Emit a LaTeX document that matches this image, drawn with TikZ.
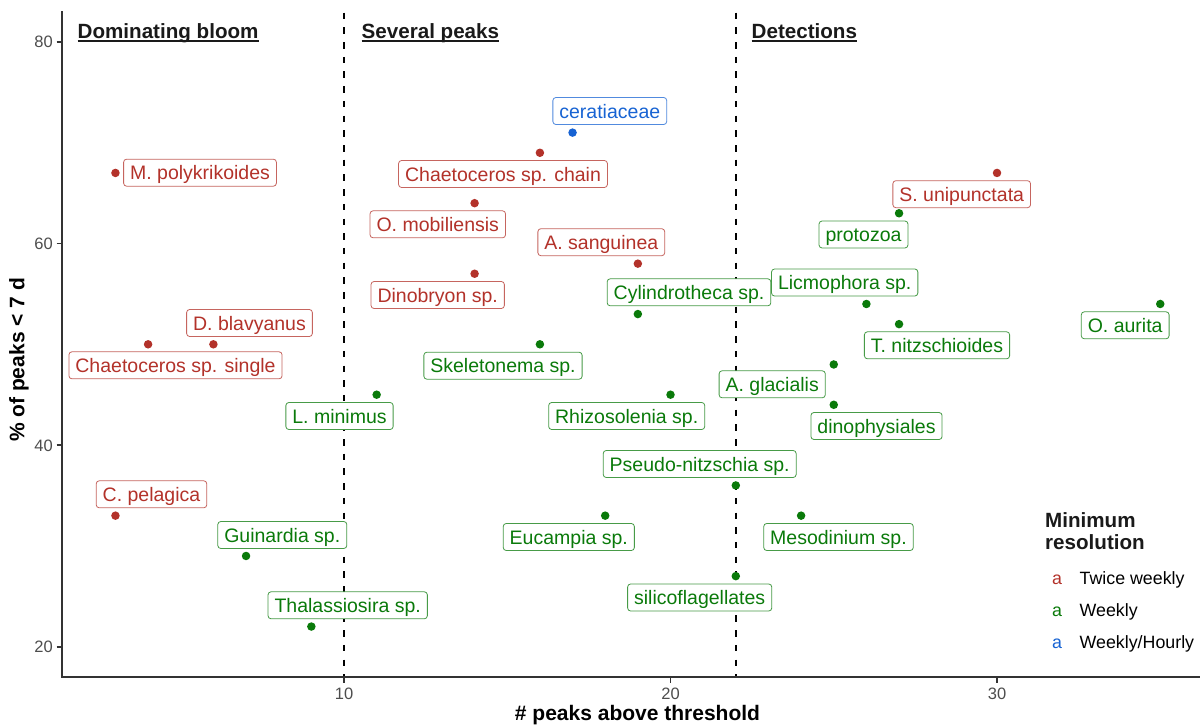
\documentclass[tikz,border=0pt]{standalone}
\usepackage{fontspec}
\setmainfont{Liberation Sans}
\definecolor{cR}{HTML}{B3322A}
\definecolor{cG}{HTML}{0A7A0A}
\definecolor{cB}{HTML}{1763D3}
\definecolor{axisgray}{HTML}{333333}
\definecolor{tickgray}{HTML}{4D4D4D}
\definecolor{titleblack}{HTML}{1A1A1A}
\newcommand\labfont{\fontsize{19.5}{20}\selectfont}
\newcommand\specpt[7]{%
  \node[dot=#2] (p#1) at ({xv(#3)},{yv(#4)}) {};
  \node[lab=#2] (l#1) at (#5,#6) {#7};}
\tikzset{
  lab/.style={draw=#1!75!white, text=#1, fill=white, rounded corners=3pt,
    line width=0.8pt, font=\labfont, inner xsep=6.5pt, inner ysep=4pt,
    text height=16.5pt, text depth=2.5pt},
  dot/.style={circle, fill=#1, inner sep=0pt, minimum size=8.5pt},
  ticklab/.style={text=tickgray, font=\fontsize{16.5}{17}\selectfont, inner sep=0pt},
  paneltitle/.style={text=titleblack, font=\fontsize{20.6}{22}\selectfont\bfseries, inner sep=0pt, anchor=base west},
  axtitle/.style={text=black, font=\fontsize{21}{23}\selectfont\bfseries, inner sep=0pt},
  legtext/.style={text=black, font=\fontsize{17.8}{19}\selectfont, inner sep=0pt, anchor=base west},
  legkey/.style={font=\fontsize{17.8}{19}\selectfont, inner sep=0pt, anchor=base},
  vline/.style={line width=2pt, black, dash pattern=on 6.5pt off 8.2pt},
  axline/.style={line width=2pt, axisgray},
}
\begin{document}
\begin{tikzpicture}[x=1pt,y=-1pt,
  declare function={xv(\v)=344+(\v-10)*32.65; yv(\v)=646.7-(\v-20)*10.08;}]
\useasboundingbox (0,0) rectangle (1200,725);
\fill[white] (0,0) rectangle (1200,725);

% dashed separators
\coordinate (d1top) at ({xv(10)},12.7);
\coordinate (d1bot) at ({xv(10)},677);
\coordinate (d2top) at ({xv(22)},12.7);
\coordinate (d2bot) at ({xv(22)},677);
\draw[vline] (d1top) -- (d1bot);
\draw[vline] (d2top) -- (d2bot);

% axes
\coordinate (origin) at (62,677);
\coordinate (ytop) at (62,12);
\coordinate (xend) at (1200,677);
\draw[axline, line cap=rect] (ytop) -- (origin) -- (xend);

% y ticks
\foreach \v in {20,40,60,80}{
  \coordinate (yt\v a) at (56.5,{yv(\v)});
  \coordinate (yt\v b) at (62,{yv(\v)});
  \draw[axline, line width=1.6pt] (yt\v a) -- (yt\v b);
  \node[ticklab, anchor=base east] (ytl\v) at (53,{yv(\v)+5.9}) {\v};
}
% x ticks
\foreach \v in {10,20,30}{
  \coordinate (xt\v a) at ({xv(\v)},677);
  \coordinate (xt\v b) at ({xv(\v)},682.5);
  \draw[axline, line width=1.6pt] (xt\v a) -- (xt\v b);
  \node[ticklab, anchor=base] (xtl\v) at ({xv(\v)},699) {\v};
}

% axis titles
\node[axtitle, anchor=base] (xtitle) at (637.5,720) {\# peaks above threshold};
\node[axtitle, rotate=90] (ytitle) at (19,360) {\% of peaks < 7 d};

% panel titles
\foreach \nm/\xx/\tx in {tA/77.5/Dominating bloom, tB/361.5/Several peaks, tC/751.5/Detections}{
  \node[paneltitle] (\nm) at (\xx,39) {\tx};
  \draw[titleblack, line width=1.8pt] ([yshift=-2.4pt]\nm.base west) -- ([yshift=-2.4pt]\nm.base east);
}

% points and labels
\specpt{1}{cR}{3}{67}{200}{172.7}{M. polykrikoides}
\specpt{2}{cR}{6}{50}{249.5}{323}{D. blavyanus}
\specpt{3}{cR}{4}{50}{175.5}{365.3}{Chaetoceros sp. single}
\specpt{4}{cR}{3}{33}{151.5}{494.3}{C. pelagica}
\specpt{5}{cG}{7}{29}{282.3}{535}{Guinardia sp.}
\specpt{6}{cG}{11}{45}{339.5}{416}{L. minimus}
\specpt{7}{cG}{9}{22}{347.7}{605.3}{Thalassiosira sp.}
\specpt{8}{cB}{17}{71}{609.8}{111}{ceratiaceae}
\specpt{9}{cR}{16}{69}{503}{174}{Chaetoceros sp. chain}
\specpt{10}{cR}{14}{64}{437.8}{224.3}{O. mobiliensis}
\specpt{11}{cR}{19}{58}{601.3}{242.2}{A. sanguinea}
\specpt{12}{cR}{14}{57}{437.7}{295}{Dinobryon sp.}
\specpt{13}{cG}{19}{53}{689}{292.3}{Cylindrotheca sp.}
\specpt{14}{cG}{16}{50}{503}{365.7}{Skeletonema sp.}
\specpt{15}{cG}{20}{45}{626.7}{416}{Rhizosolenia sp.}
\specpt{16}{cG}{22}{36}{699.7}{464}{Pseudo-nitzschia sp.}
\specpt{17}{cG}{18}{33}{568.8}{537}{Eucampia sp.}
\specpt{18}{cG}{22}{27}{699.7}{597.5}{silicoflagellates}
\specpt{19}{cG}{25}{48}{772.2}{384.3}{A. glacialis}
\specpt{20}{cG}{25}{44}{876.5}{426}{dinophysiales}
\specpt{21}{cG}{24}{33}{838.5}{537}{Mesodinium sp.}
\specpt{22}{cR}{30}{67}{961.7}{194.2}{S. unipunctata}
\specpt{23}{cG}{27}{63}{863.5}{234.5}{protozoa}
\specpt{24}{cG}{26}{54}{844.7}{282.5}{Licmophora sp.}
\specpt{25}{cG}{27}{52}{937}{345.3}{T. nitzschioides}
\specpt{26}{cG}{35}{54}{1125.2}{325.3}{O. aurita}

% legend
\node[paneltitle] (legt1) at (1045,527) {Minimum};
\node[paneltitle] (legt2) at (1045,549) {resolution};
\node[legkey, text=cR] (k1) at (1057,584) {a};
\node[legtext] (k1t) at (1079.5,584) {Twice weekly};
\node[legkey, text=cG] (k2) at (1057,616) {a};
\node[legtext] (k2t) at (1079.5,616) {Weekly};
\node[legkey, text=cB] (k3) at (1057,648) {a};
\node[legtext] (k3t) at (1079.5,648) {Weekly/Hourly};
\end{tikzpicture}
\end{document}
